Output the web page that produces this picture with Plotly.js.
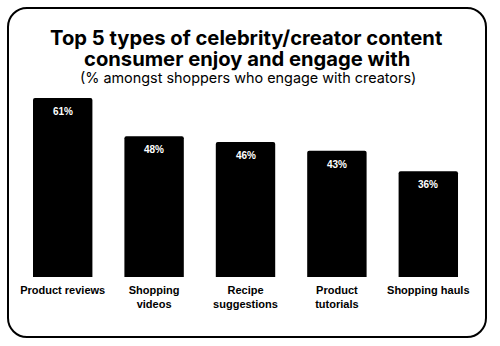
<!DOCTYPE html>
<html>
<head>
<meta charset="utf-8">
<script src="https://cdn.plot.ly/plotly-3.0.1.min.js"></script>
<style>
html,body{margin:0;padding:0;background:#fff;}
#frame{position:absolute;left:7px;top:7px;width:476px;height:327px;border:2px solid #000;border-radius:20px;}
#chart{position:absolute;left:0;top:0;width:500px;height:346px;}
</style>
</head>
<body>
<div id="frame"></div>
<div id="chart"></div>
<script>
const categories = ['Product reviews', 'Shopping<br>videos', 'Recipe<br>suggestions', 'Product<br>tutorials', 'Shopping hauls'];
const values = [61, 48, 46, 43, 36];
const valueLabels = values.map(v => v + '%');
const titleLines = ['Top 5 types of celebrity/creator content', 'consumer enjoy and engage with'];
const subtitle = '(% amongst shoppers who engage with creators)';

const trace = {
  type: 'bar',
  x: categories,
  y: values,
  marker: {color: '#000', cornerradius: 2},
  hoverinfo: 'none'
};

const annotations = values.map((v, i) => ({
  x: categories[i], y: v, xref: 'x', yref: 'y',
  text: valueLabels[i], showarrow: false,
  yanchor: 'top', yshift: -6,
  font: {family: 'Liberation Sans, Arial, sans-serif', size: 10, color: '#fff', weight: 700}
}));

const titleFont = {family: 'Inter, sans-serif', size: 20.2, color: '#000', weight: 700};
annotations.push({xref: 'paper', yref: 'paper', x: 0.503, y: 1, xanchor: 'center', yanchor: 'middle', yshift: 61,
  text: titleLines[0], showarrow: false, font: titleFont});
annotations.push({xref: 'paper', yref: 'paper', x: 0.503, y: 1, xanchor: 'center', yanchor: 'middle', yshift: 40,
  text: titleLines[1], showarrow: false, font: titleFont});
annotations.push({xref: 'paper', yref: 'paper', x: 0.505, y: 1, xanchor: 'center', yanchor: 'middle', yshift: 20,
  text: subtitle, showarrow: false, font: {family: 'Inter, sans-serif', size: 14.4, color: '#000'}});

const layout = {
  width: 500, height: 346,
  margin: {l: 17, r: 26, t: 98, b: 69, pad: 0},
  paper_bgcolor: 'rgba(0,0,0,0)',
  plot_bgcolor: 'rgba(0,0,0,0)',
  bargap: 0.35,
  showlegend: false,
  xaxis: {
    type: 'category', range: [-0.5, 4.5],
    showgrid: false, zeroline: false, showline: false, ticks: '',
    ticklabelstandoff: 5,
    tickfont: {family: 'Liberation Sans, Arial, sans-serif', size: 11, color: '#000', weight: 700},
    fixedrange: true
  },
  yaxis: {range: [0, 61], visible: false, fixedrange: true},
  annotations: annotations
};

Plotly.newPlot('chart', [trace], layout, {displayModeBar: false, staticPlot: true});
</script>
</body>
</html>
